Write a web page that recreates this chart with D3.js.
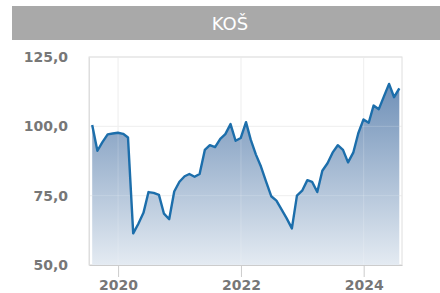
<!DOCTYPE html>
<html>
<head>
<meta charset="utf-8">
<script src="https://cdn.jsdelivr.net/npm/d3@7"></script>
<style>
  body { margin: 0; background: #fff; }
  svg { display: block; font-family: "DejaVu Sans", sans-serif; }
</style>
</head>
<body>
<div id="chart"></div>
<script>

// data

const title = "KOŠ"
const startMonth = new Date(2019, 6, 31)   // first point, end of July 2019

const values = [
  100.5, 91.2, 94.3, 97.1, 97.4, 97.7, 97.3, 96.0, 61.4, 64.8,
  68.8, 76.3, 76.0, 75.3, 68.5, 66.5, 76.5, 80.0, 82.0, 82.8,
  81.8, 82.8, 91.5, 93.2, 92.5, 95.5, 97.2, 100.8, 94.8, 95.8,
  101.5, 95.2, 89.8, 85.5, 80.0, 74.8, 73.2, 70.0, 66.8, 63.2,
  75.0, 76.8, 80.6, 80.0, 76.3, 84.0, 86.7, 90.5, 93.2, 91.5,
  87.0, 90.5, 97.5, 102.5, 101.3, 107.5, 106.2, 110.7, 115.3, 110.5,
  113.7
]

const yTicks = [50, 75, 100, 125]
const xTickYears = [2020, 2022, 2024]

// month-end dates for each value
const data = values.map((v, i) => ({
  date: new Date(startMonth.getFullYear(), startMonth.getMonth() + i + 1, 0),
  value: v
}))

// constants

const width = 440
const height = 293
const margin = {top: 57, bottom: 28, left: 89, right: 38}

const svg = d3.select("#chart")
  .append("svg")
  .attr("width", width)
  .attr("height", height)

// header bar

svg.append("rect")
  .attr("x", 12)
  .attr("y", 6)
  .attr("width", width)
  .attr("height", 34)
  .attr("fill", "#a9a9a9")

svg.append("text")
  .attr("x", 230)
  .attr("y", 30)
  .attr("text-anchor", "middle")
  .attr("fill", "#fff")
  .attr("font-size", 18)
  .text(title)

// scales

const xScale = d3.scaleTime()
  .domain([new Date(2019, 6, 12), new Date(2024, 7, 16)])
  .range([margin.left, width - margin.right])

const yScale = d3.scaleLinear()
  .domain([50, 125])
  .range([height - margin.bottom, margin.top])

const fmt = d => d.toFixed(1).replace(".", ",")

// gridlines

function drawGrid(stroke) {
  const g = svg.append("g")
  g.selectAll(".h")
    .data(yTicks)
    .join("line")
    .attr("class", "h")
    .attr("x1", margin.left)
    .attr("x2", width - margin.right)
    .attr("y1", d => yScale(d))
    .attr("y2", d => yScale(d))
    .attr("stroke", stroke)
  g.selectAll(".v")
    .data(xTickYears)
    .join("line")
    .attr("class", "v")
    .attr("x1", d => xScale(new Date(d, 0, 1)))
    .attr("x2", d => xScale(new Date(d, 0, 1)))
    .attr("y1", margin.top)
    .attr("y2", height - margin.bottom)
    .attr("stroke", stroke)
}

drawGrid("#ececec")

// plot border

svg.append("rect")
  .attr("x", margin.left)
  .attr("y", margin.top)
  .attr("width", width - margin.left - margin.right)
  .attr("height", height - margin.top - margin.bottom)
  .attr("fill", "none")
  .attr("stroke", "#dedede")

// gradient for the area

const grad = svg.append("defs")
  .append("linearGradient")
  .attr("id", "areaGrad")
  .attr("gradientUnits", "userSpaceOnUse")
  .attr("x1", 0).attr("x2", 0)
  .attr("y1", yScale(125)).attr("y2", yScale(50))

grad.append("stop").attr("offset", "0%").attr("stop-color", "#5e83af")
grad.append("stop").attr("offset", "100%").attr("stop-color", "#e4ebf2")

// area and line

const area = d3.area()
  .x(d => xScale(d.date))
  .y0(yScale(50))
  .y1(d => yScale(d.value))

const line = d3.line()
  .x(d => xScale(d.date))
  .y(d => yScale(d.value))

svg.append("path")
  .datum(data)
  .attr("fill", "url(#areaGrad)")
  .attr("d", area)

// faint grid showing through the area
drawGrid("rgba(255,255,255,0.18)")

svg.append("path")
  .datum(data)
  .attr("fill", "none")
  .attr("stroke", "#1c6eab")
  .attr("stroke-width", 2.4)
  .attr("stroke-linejoin", "round")
  .attr("d", line)

// axes

const xAxis = d3.axisBottom(xScale)
  .tickValues(xTickYears.map(y => new Date(y, 0, 1)))
  .tickFormat(d3.timeFormat("%Y"))
  .tickSize(12)
  .tickSizeOuter(0)
  .tickPadding(3)

const yAxis = d3.axisLeft(yScale)
  .tickValues(yTicks)
  .tickFormat(fmt)
  .tickSize(0)
  .tickPadding(21)

const xAxisGroup = svg.append("g")
  .attr("transform", `translate(0, ${height - margin.bottom})`)
  .call(xAxis)

const yAxisGroup = svg.append("g")
  .attr("transform", `translate(${margin.left}, 0)`)
  .call(yAxis)

xAxisGroup.select(".domain").attr("stroke", "#cccccc")
xAxisGroup.selectAll(".tick line").attr("stroke", "#cccccc")
yAxisGroup.select(".domain").attr("stroke", "#dedede")

svg.selectAll(".tick text")
  .attr("fill", "#777")
  .attr("font-size", 14)
  .attr("font-weight", "bold")
  .attr("font-family", "DejaVu Sans, sans-serif")

</script>
</body>
</html>
